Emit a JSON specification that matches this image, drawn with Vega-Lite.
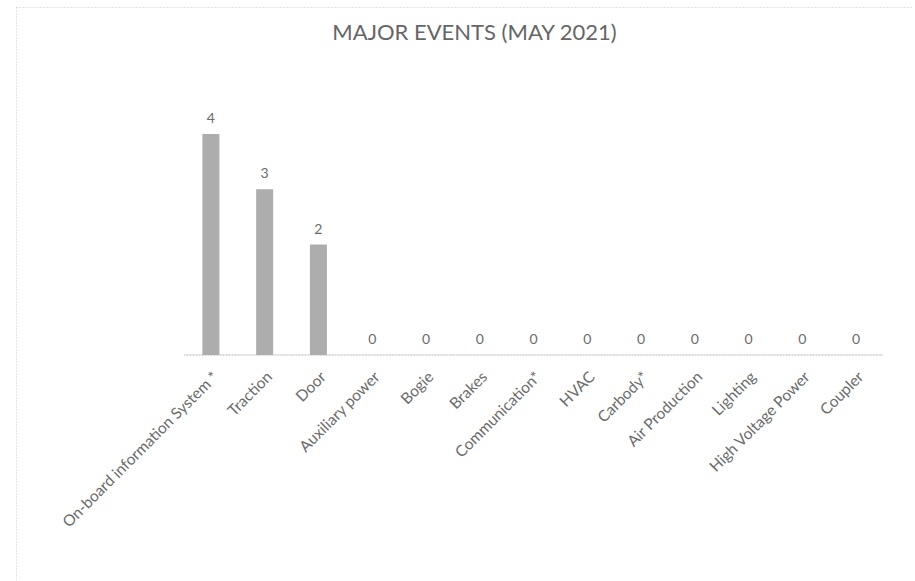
{
  "$schema": "https://vega.github.io/schema/vega-lite/v6.json",
  "autosize": {"type": "none"},
  "padding": {"left": 16, "top": 7, "right": 0, "bottom": 0},
  "width": 897,
  "height": 575,
  "background": "white",
  "config": {
    "view": {"stroke": "#c8c8c8", "strokeDash": [1, 2], "strokeWidth": 1},
    "font": "Lato"
  },
  "title": {
    "text": "MAJOR EVENTS (MAY 2021)",
    "anchor": "middle",
    "frame": "group",
    "orient": "top",
    "offset": -48,
    "baseline": "middle",
    "dx": 10,
    "fontSize": 22,
    "fontWeight": "normal",
    "color": "#666666"
  },
  "data": {
    "values": [
      {"category": "On-board information System *", "events": 4},
      {"category": "Traction", "events": 3},
      {"category": "Door", "events": 2},
      {"category": "Auxiliary power", "events": 0},
      {"category": "Bogie", "events": 0},
      {"category": "Brakes", "events": 0},
      {"category": "Communication*", "events": 0},
      {"category": "HVAC", "events": 0},
      {"category": "Carbody*", "events": 0},
      {"category": "Air Production", "events": 0},
      {"category": "Lighting", "events": 0},
      {"category": "High Voltage Power", "events": 0},
      {"category": "Coupler", "events": 0}
    ]
  },
  "encoding": {
    "x": {
      "field": "category",
      "type": "nominal",
      "sort": null,
      "scale": {"paddingInner": 0, "paddingOuter": 0, "range": [168, 867]},
      "axis": {
        "orient": "bottom",
        "offset": -227,
        "domain": false,
        "ticks": false,
        "labelAngle": -45,
        "labelPadding": 14,
        "labelFontSize": 15.5,
        "labelLimit": 0,
        "labelColor": "#6b6b6b",
        "title": null
      }
    }
  },
  "layer": [
    {
      "mark": {"type": "bar", "width": {"band": 1}, "fill": null, "stroke": "#b0b0b0", "strokeDash": [1, 2], "strokeWidth": 1},
      "encoding": {
        "y": {"datum": 0, "type": "quantitative", "scale": {"domain": [-4.109, 6.299], "nice": false, "zero": false}, "axis": null},
        "y2": {"datum": 0}
      }
    },
    {
      "mark": {"type": "bar", "width": 17, "color": "#adadad"},
      "encoding": {
        "y": {"field": "events", "type": "quantitative", "scale": {"domain": [-4.109, 6.299], "nice": false, "zero": false}, "axis": null},
        "y2": {"datum": 0}
      }
    },
    {
      "mark": {"type": "text", "baseline": "alphabetic", "dy": -11, "fontSize": 14, "color": "#6b6b6b"},
      "encoding": {
        "y": {"field": "events", "type": "quantitative"},
        "text": {"field": "events", "type": "quantitative"}
      }
    }
  ]
}
